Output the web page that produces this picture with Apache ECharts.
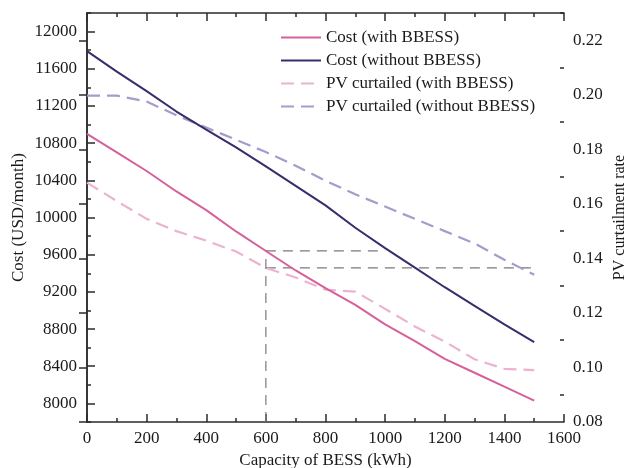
<!DOCTYPE html>
<html>
<head>
<meta charset="utf-8">
<script src="https://cdn.jsdelivr.net/npm/echarts@6/dist/echarts.min.js"></script>
<style>
  html, body { margin: 0; padding: 0; background: #fff; }
  #chart { width: 626px; height: 468px; }
</style>
</head>
<body>
<div id="chart"></div>
<script>
// BESS capacity (kWh) at which each case was evaluated
const capacity = [0, 100, 200, 300, 400, 500, 600, 700, 800, 900, 1000, 1100, 1200, 1300, 1400, 1500];

// Monthly cost (USD/month)
const costWith    = [10900, 10700, 10500, 10280, 10080, 9850, 9640, 9430, 9240, 9060, 8850, 8670, 8480, 8330, 8180, 8030];
const costWithout = [11790, 11570, 11360, 11140, 10945, 10755, 10550, 10340, 10130, 9890, 9670, 9460, 9250, 9050, 8850, 8660];

// PV curtailment rate
const pvWith    = [0.1678, 0.1610, 0.1545, 0.1500, 0.1465, 0.1425, 0.1365, 0.1330, 0.1285, 0.1278, 0.1215, 0.1150, 0.1095, 0.1030, 0.0995, 0.0990];
const pvWithout = [0.1997, 0.1997, 0.1975, 0.1925, 0.1880, 0.1835, 0.1790, 0.1740, 0.1685, 0.1635, 0.1590, 0.1545, 0.1500, 0.1455, 0.1395, 0.1340];

// Axis tick values
const costTicks = [8000, 8400, 8800, 9200, 9600, 10000, 10400, 10800, 11200, 11600, 12000];
const costMinor = [7800, 8200, 8600, 9000, 9400, 9800, 10200, 10600, 11000, 11400, 11800, 12200];
const pvTicks   = [0.08, 0.10, 0.12, 0.14, 0.16, 0.18, 0.20, 0.22];
const pvMinor   = [0.09, 0.11, 0.13, 0.15, 0.17, 0.19, 0.21, 0.23];

// Guide lines: cost with BBESS at 600 kWh equals cost without BBESS at ~1000 kWh
const guideCapacity = 600;
const guideMatchCapacity = 1000;
const guideEndCapacity = 1500;

const FONT = '"Liberation Serif", "Times New Roman", serif';
const AXIS_COLOR = '#2b2b2b';
const TEXT_COLOR = '#1a1a1a';

const COLORS = {
  costWith: '#d6609a',
  costWithout: '#3a2c6c',
  pvWith: '#ebb3d0',
  pvWithout: '#a99bc9',
  guide: '#7a7a7a'
};

const pairs = (ys) => capacity.map((c, i) => [c, ys[i]]);
const gi = capacity.indexOf(guideCapacity);

const axisLine = { show: true, lineStyle: { color: AXIS_COLOR, width: 1.5 } };
const labelStyle = { color: TEXT_COLOR, fontFamily: FONT, fontSize: 17 };
const plain = (v) => String(v);

const chart = echarts.init(document.getElementById('chart'), null, { renderer: 'canvas' });

const option = {
  animation: false,
  backgroundColor: '#ffffff',
  textStyle: { fontFamily: FONT },
  grid: { left: 87, right: 62, top: 13, bottom: 46, containLabel: false, outerBoundsMode: 'none' },
  legend: {
    data: ['Cost (with BBESS)', 'Cost (without BBESS)', 'PV curtailed (with BBESS)', 'PV curtailed (without BBESS)'],
    orient: 'vertical',
    left: 275,
    top: 24,
    itemWidth: 40,
    itemHeight: 14,
    itemGap: 6,
    itemStyle: { opacity: 0 },
    textStyle: { color: TEXT_COLOR, fontFamily: FONT, fontSize: 17 }
  },
  xAxis: [
    {
      type: 'value', position: 'bottom', min: 0, max: 1600, interval: 200,
      name: 'Capacity of BESS (kWh)', nameLocation: 'middle', nameGap: 27,
      nameTextStyle: labelStyle,
      axisLine: axisLine,
      axisTick: { show: true, inside: true, length: 8, lineStyle: { color: AXIS_COLOR, width: 1.5 } },
      minorTick: { show: true, splitNumber: 2, length: 4, lineStyle: { color: AXIS_COLOR, width: 1.5 } },
      axisLabel: Object.assign({ margin: 8, formatter: plain }, labelStyle),
      splitLine: { show: false }
    },
    {
      type: 'value', position: 'top', min: 0, max: 1600, interval: 200,
      axisLine: axisLine,
      axisTick: { show: true, inside: true, length: 8, lineStyle: { color: AXIS_COLOR, width: 1.5 } },
      minorTick: { show: true, splitNumber: 2, length: 4, lineStyle: { color: AXIS_COLOR, width: 1.5 } },
      axisLabel: { show: false },
      splitLine: { show: false }
    }
  ],
  yAxis: [
    {
      type: 'value', position: 'left', min: 7800, max: 12200,
      name: 'Cost (USD/month)', nameLocation: 'middle', nameGap: 60, nameRotate: 90,
      nameMoveOverlap: false,
      nameTextStyle: labelStyle,
      axisLine: axisLine,
      axisTick: { show: true, inside: true, length: 8, customValues: costTicks, lineStyle: { color: AXIS_COLOR, width: 1.5 } },
      axisLabel: Object.assign({ margin: 10, customValues: costTicks, formatter: plain }, labelStyle),
      splitLine: { show: false }
    },
    {
      type: 'value', position: 'right', min: 0.08, max: 0.23,
      name: 'PV curtailment rate', nameLocation: 'middle', nameGap: 48, nameRotate: 90,
      nameMoveOverlap: false,
      nameTextStyle: { color: TEXT_COLOR, fontFamily: FONT, fontSize: 16 },
      axisLine: axisLine,
      axisTick: { show: true, inside: true, length: 8, customValues: pvTicks, lineStyle: { color: AXIS_COLOR, width: 1.5 } },
      axisLabel: Object.assign({ margin: 9, customValues: pvTicks, formatter: (v) => v.toFixed(2) }, labelStyle),
      splitLine: { show: false }
    },
    {
      // minor ticks on the cost axis
      type: 'value', position: 'left', min: 7800, max: 12200,
      axisLine: { show: false },
      axisTick: { show: true, inside: true, length: 4, customValues: costMinor, lineStyle: { color: AXIS_COLOR, width: 1.5 } },
      axisLabel: { show: false },
      splitLine: { show: false }
    },
    {
      // minor ticks on the curtailment axis
      type: 'value', position: 'right', min: 0.08, max: 0.23,
      axisLine: { show: false },
      axisTick: { show: true, inside: true, length: 4, customValues: pvMinor, lineStyle: { color: AXIS_COLOR, width: 1.5 } },
      axisLabel: { show: false },
      splitLine: { show: false }
    }
  ],
  series: [
    // guide lines
    {
      name: 'guide-vertical', type: 'line', xAxisIndex: 0, yAxisIndex: 0, symbol: 'none', silent: true, z: 1,
      data: [[guideCapacity, 7800], [guideCapacity, costWith[gi]]],
      lineStyle: { color: COLORS.guide, width: 1.2, type: [10, 7] }
    },
    {
      name: 'guide-cost', type: 'line', xAxisIndex: 0, yAxisIndex: 0, symbol: 'none', silent: true, z: 1,
      data: [[guideCapacity, costWith[gi]], [guideMatchCapacity, costWith[gi]]],
      lineStyle: { color: COLORS.guide, width: 1.2, type: [10, 7] }
    },
    {
      name: 'guide-pv', type: 'line', xAxisIndex: 0, yAxisIndex: 1, symbol: 'none', silent: true, z: 1,
      data: [[guideCapacity, pvWith[gi]], [guideEndCapacity, pvWith[gi]]],
      lineStyle: { color: COLORS.guide, width: 1.2, type: [10, 7] }
    },
    // curves
    {
      name: 'Cost (with BBESS)', type: 'line', xAxisIndex: 0, yAxisIndex: 0, symbol: 'none', z: 3,
      data: pairs(costWith), color: COLORS.costWith,
      lineStyle: { color: COLORS.costWith, width: 2 }
    },
    {
      name: 'Cost (without BBESS)', type: 'line', xAxisIndex: 0, yAxisIndex: 0, symbol: 'none', z: 3,
      data: pairs(costWithout), color: COLORS.costWithout,
      lineStyle: { color: COLORS.costWithout, width: 2 }
    },
    {
      name: 'PV curtailed (with BBESS)', type: 'line', xAxisIndex: 0, yAxisIndex: 1, symbol: 'none', z: 2,
      data: pairs(pvWith), color: COLORS.pvWith,
      lineStyle: { color: COLORS.pvWith, width: 2.2, type: [13, 7] }
    },
    {
      name: 'PV curtailed (without BBESS)', type: 'line', xAxisIndex: 0, yAxisIndex: 1, symbol: 'none', z: 2,
      data: pairs(pvWithout), color: COLORS.pvWithout,
      lineStyle: { color: COLORS.pvWithout, width: 2.2, type: [13, 7] }
    }
  ]
};

chart.setOption(option);
</script>
</body>
</html>
